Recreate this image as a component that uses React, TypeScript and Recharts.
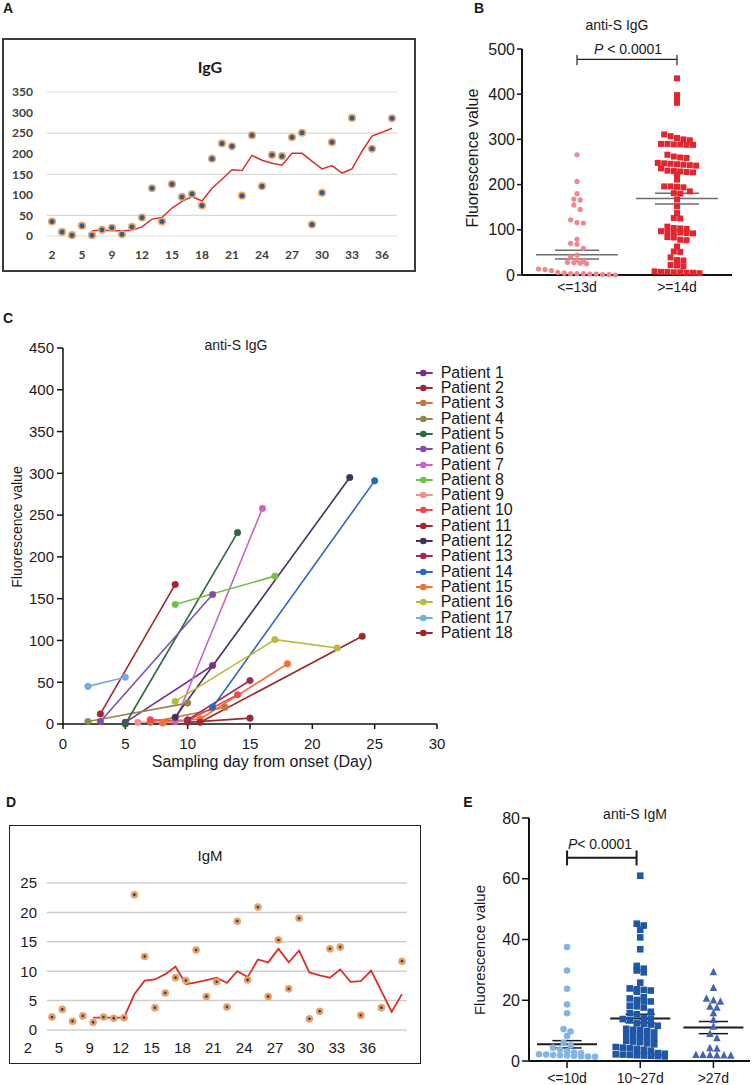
import React from 'react';
import {
  LineChart,
  Line,
  XAxis,
  YAxis,
  CartesianGrid,
  ScatterChart,
  Scatter,
  ReferenceLine,
} from 'recharts';

const FONT = 'Arial, "Liberation Sans", Helvetica, sans-serif';
const XLS = 'Lato, "Open Sans", sans-serif';

// A + D: sampling day from onset (day 6 not sampled)
const days = ['2', '3', '4', '5', '7', '8', '9', '10', '11', '12', '13', '14', '15', '16', '17', '18', '19', '20', '21', '22', '23', '24', '25', '26', '27', '28', '29', '30', '31', '32', '33', '34', '35', '36', '37'];
const iggPoints = [35, 10, 2, 25, 2, 15, 20, 4, 22, 45, 116, 35, 126, 95, 102, 74, 188, 225, 218, 98, 245, 121, 197, 194, 240, 251, 28, 105, 228, null, 287, null, 212, null, 286];
const iggAvg = [null, null, null, null, 13, 14, 13, 13, 14, 22, 41, 45, 68, 84, 96, 85, 116, 138, 161, 159, 196, 184, 177, 172, 201, 201, 182, 163, 171, 153, 163, 206, 243, 252, 262];
const igmPoints = [2.2, 3.5, 1.5, 2.4, 1.3, 2.2, 2.0, 2.1, 23.0, 12.5, 3.8, 6.3, 8.9, 8.4, 13.6, 5.7, 8.2, 3.9, 18.5, 8.5, 20.9, 5.7, 15.3, 7.0, 19.0, 1.9, 3.2, 13.8, 14.1, null, 2.5, null, 3.8, null, 11.7];
const igmAvg = [null, null, null, null, 2.1, 2.1, 2.1, 2.1, 6.1, 8.4, 8.6, 9.5, 10.8, 7.8, 8.1, 8.5, 8.9, 8.0, 10.0, 9.0, 12.0, 11.5, 13.8, 11.5, 13.5, 9.8, 9.3, 8.9, 10.3, 8.2, 8.3, 10.1, 6.6, 3.1, 6.1];

// B: anti-S IgG by sampling window
const groupsB = ['<=13d', '>=14d'];
const iggEarly = [266, 207, 180, 168, 166, 155, 145, 122, 116, 115, 79, 70, 68, 59, 44, 40, 33, 30, 28, 27, 26, 25, 13, 12, 10, 6, 4, 3, 3, 3, 2, 2, 1, 1, 0];
const iggLate = [435, 398, 391, 381, 311, 307, 303, 300, 298, 290, 290, 289, 289, 288, 288, 266, 262, 260, 259, 248, 247, 246, 245, 244, 243, 242, 236, 231, 230, 229, 228, 227, 222, 211, 196, 196, 195, 194, 185, 181, 180, 167, 152, 137, 126, 125, 107, 104, 103, 102, 97, 96, 95, 94, 93, 92, 84, 83, 78, 77, 63, 52, 51, 39, 33, 32, 22, 21, 19, 8, 7, 7, 6, 6, 5, 5, 4];
const meanB = [45, 169];
const semB = [9.5, 12];

// C: paired samples per patient
const patientDays = [[5, 12], [3, 9], [7, 13], [2, 10], [5, 14], [3, 12], [9, 16], [9, 17], [6, 8], [7, 10, 14], [10, 15], [9, 23], [10, 15], [12, 25], [8, 11, 18], [9, 17, 22], [2, 5], [11, 24]];
const patientValues = [[2, 70], [12, 167], [2, 20], [3, 25], [0, 229], [3, 155], [3, 258], [143, 177], [2, 1], [5, 4, 35], [2, 7], [8, 295], [5, 52], [20, 291], [2, 6, 72], [27, 101, 91], [45, 56], [2, 105]];
const patientColors = ['#7b2d8e', '#a3232f', '#c8733a', '#8c8a4a', '#2a6a3e', '#8050a8', '#c468c0', '#70c048', '#f09090', '#ee4848', '#9a2b35', '#45305a', '#9a2b5a', '#2c68b8', '#f07038', '#b8b840', '#7aa8e0', '#9a2a2a'];

// E: anti-S IgM by sampling window
const groupsE = ['<=10d', '10~27d', '>27d'];
const igmEarly = [37.5, 29.8, 23.8, 18.6, 15.7, 10.5, 9.7, 8.2, 6.0, 5.2, 4.4, 3.8, 3.2, 2.8, 2.5, 2.2, 2.1, 2.0, 1.9, 1.8, 1.7, 1.6, 1.5, 1.4];
const igmMid = [61, 45.2, 44.6, 43.2, 40.7, 36.8, 31.3, 30.4, 29.8, 29.2, 25.8, 23.9, 23.6, 23.4, 23.2, 22.8, 21.0, 20.6, 20.1, 19.8, 19.6, 18.2, 18.0, 17.6, 16.2, 15.8, 15.4, 14.2, 14.0, 13.8, 13.5, 12.4, 12.2, 12.0, 11.6, 10.6, 10.3, 10.1, 9.8, 9.4, 8.6, 8.3, 8.1, 7.8, 7.4, 6.6, 6.4, 6.2, 5.8, 5.5, 4.6, 4.4, 4.2, 4.0, 3.7, 3.4, 2.6, 2.4, 2.2, 2.1, 2.0, 1.9, 1.8, 1.7, 1.6, 1.5];
const igmLate = [29.2, 24.0, 20.5, 19.9, 19.5, 17.9, 17.5, 15.7, 13.5, 11.3, 8.9, 7.5, 4.2, 4.0, 2.0, 1.95, 1.9, 1.85, 1.8, 1.75];
const meanE = [5.5, 14, 11];
const semE = [1.2, 1.4, 2];

const iggData = days.map((d, i) => ({ day: d, dot: iggPoints[i], avg: iggAvg[i] }));
const igmData = days.map((d, i) => ({ day: d, dot: igmPoints[i], avg: igmAvg[i] }));
const patients = patientDays.map((ds, i) => ds.map((d, j) => ({ d, v: patientValues[i][j] })));

// column scatter: points in the same pixel row are spread sideways, centred
function swarm(values: number[], pxPerUnit: number, size: number): number[] {
  const rows = new Map<number, number[]>();
  values.forEach((v, i) => {
    const r = Math.floor((v * pxPerUnit) / size);
    if (!rows.has(r)) rows.set(r, []);
    rows.get(r)!.push(i);
  });
  const off = new Array(values.length).fill(0);
  rows.forEach((idx) => {
    idx.forEach((i, j) => {
      off[i] = (j - (idx.length - 1) / 2) * size;
    });
  });
  return off;
}

const column = (vals: number[], cat: number, pxY: number, pxX: number, size: number) => {
  const o = swarm(vals, pxY, size);
  return vals.map((v, i) => ({ x: cat + o[i] / pxX, y: v }));
};

const dotShape = (r: number, fill: string) => (p: any) => <circle cx={p.cx} cy={p.cy} r={r} fill={fill} />;
const squareShape = (s: number, fill: string) => (p: any) => (
  <rect x={p.cx - s / 2} y={p.cy - s / 2} width={s} height={s} fill={fill} />
);
const triShape = (s: number, fill: string) => (p: any) => (
  <polygon
    points={`${p.cx},${p.cy - s * 0.6} ${p.cx - s / 2},${p.cy + s * 0.4} ${p.cx + s / 2},${p.cy + s * 0.4}`}
    fill={fill}
  />
);

const Txt = ({ x, y, size = 14, bold = false, rotate = false, font = FONT, children }: any) => (
  <div
    style={{
      position: 'absolute',
      left: x,
      top: y,
      transform: `translate(-50%, -50%)${rotate ? ' rotate(-90deg)' : ''}`,
      fontSize: size,
      fontWeight: bold ? 700 : 400,
      fontFamily: font,
      whiteSpace: 'nowrap',
      color: '#1a1a1a',
      lineHeight: 1,
    }}
  >
    {children}
  </div>
);

const seg = (x1: number, y1: number, x2: number, y2: number) => [
  { x: x1, y: y1 },
  { x: x2, y: y2 },
];

const App: React.FC = () => {
  const bPx = 100; // px per category unit
  const b1 = column(iggEarly, 1, 0.452, bPx, 6.4);
  const b2 = column(iggLate, 2, 0.452, bPx, 6.4);
  const ePx = 73.2;
  const e1 = column(igmEarly, 1, 3.034, ePx, 7);
  const e2 = column(igmMid, 2, 3.034, ePx, 7);
  const e3 = column(igmLate, 3, 3.034, ePx, 7);

  const axisTick = { fontSize: 16, fill: '#1a1a1a', fontFamily: FONT };

  return (
    <div style={{ position: 'absolute', left: 0, top: 0, width: 752, height: 1085, background: '#fff', fontFamily: FONT }}>
      {/* panel letters */}
      <Txt x={8} y={8} bold>A</Txt>
      <Txt x={479} y={8} bold>B</Txt>
      <Txt x={8} y={318} bold>C</Txt>
      <Txt x={11} y={802} bold>D</Txt>
      <Txt x={468} y={802} bold>E</Txt>

      {/* A: IgG by day */}
      <div style={{ position: 'absolute', left: 2, top: 38, width: 414, height: 234, border: '2px solid #3c3c3c', boxSizing: 'border-box' }} />
      <div style={{ position: 'absolute', left: 0, top: 0 }}>
        <LineChart width={420} height={290} data={iggData} margin={{ top: 92, right: 23, bottom: 24, left: 7 }}>
          <CartesianGrid vertical={false} stroke="#d9d9d9" strokeWidth={1.2} />
          <XAxis
            dataKey="day"
            interval={2}
            padding={{ left: 5, right: 5 }}
            axisLine={false}
            tickLine={false}
            tickSize={0}
            tickMargin={14}
            tick={{ fontSize: 12, fontWeight: 700, fill: '#404040', fontFamily: XLS }}
          />
          <YAxis
            domain={[0, 350]}
            ticks={[0, 50, 100, 150, 200, 250, 300, 350]}
            width={40}
            axisLine={false}
            tickLine={false}
            tickSize={0}
            tickMargin={14}
            tick={{ fontSize: 12, fontWeight: 700, fill: '#404040', fontFamily: XLS }}
          />
          <Line dataKey="avg" stroke="#d9302c" strokeWidth={1.5} dot={false} isAnimationActive={false} />
          <Line
            dataKey="dot"
            stroke="none"
            dot={{ r: 3.3, fill: '#2f5f8f', stroke: '#f2a766', strokeWidth: 1.6 }}
            isAnimationActive={false}
          />
        </LineChart>
      </div>
      <Txt x={210} y={67} size={16} bold font={XLS}>IgG</Txt>

      {/* B: anti-S IgG scatter */}
      <div style={{ position: 'absolute', left: 420, top: 0 }}>
        <ScatterChart width={332} height={310} margin={{ top: 49, right: 20, bottom: 5, left: 57 }}>
          <XAxis
            type="number"
            dataKey="x"
            domain={[0.45, 2.55]}
            ticks={[1, 2]}
            tickFormatter={(v: number) => groupsB[v - 1]}
            axisLine={{ stroke: '#111', strokeWidth: 2 }}
            tickLine={false}
            tickSize={0}
            tickMargin={7}
            tick={{ fontSize: 14, fill: '#1a1a1a', fontFamily: FONT }}
          />
          <YAxis
            type="number"
            dataKey="y"
            domain={[0, 500]}
            ticks={[0, 100, 200, 300, 400, 500]}
            width={45}
            axisLine={{ stroke: '#111', strokeWidth: 2 }}
            tickLine={{ stroke: '#111', strokeWidth: 1.5 }}
            tickSize={5}
            tickMargin={2}
            tick={axisTick}
          />
          <Scatter data={b1} shape={dotShape(2.6, '#f0868f')} isAnimationActive={false} />
          <Scatter data={b2} shape={squareShape(6, '#e2252f')} isAnimationActive={false} />
          {meanB.map((m, i) => (
            <ReferenceLine key={`m${i}`} segment={seg(i + 1 - 0.41, m, i + 1 + 0.41, m)} stroke="#6d6d6d" strokeWidth={1.5} />
          ))}
          {meanB.map((m, i) => (
            <ReferenceLine key={`s${i}`} segment={seg(i + 1 - 0.22, m + semB[i], i + 1 + 0.22, m + semB[i])} stroke="#6d6d6d" strokeWidth={1.5} />
          ))}
          {meanB.map((m, i) => (
            <ReferenceLine key={`t${i}`} segment={seg(i + 1 - 0.22, m - semB[i], i + 1 + 0.22, m - semB[i])} stroke="#6d6d6d" strokeWidth={1.5} />
          ))}
          <ReferenceLine segment={seg(1, 477, 2, 477)} stroke="#222" strokeWidth={1.2} />
          <ReferenceLine segment={seg(1, 487, 1, 464)} stroke="#222" strokeWidth={1.2} />
          <ReferenceLine segment={seg(2, 487, 2, 464)} stroke="#222" strokeWidth={1.2} />
        </ScatterChart>
      </div>
      <Txt x={617} y={25} size={14}>anti-S IgG</Txt>
      <Txt x={628} y={49} size={14}><i>P</i> &lt; 0.0001</Txt>
      <Txt x={473} y={158} size={16} rotate>Fluorescence value</Txt>

      {/* C: patient trajectories */}
      <div style={{ position: 'absolute', left: 0, top: 330 }}>
        <LineChart width={450} height={440} margin={{ top: 18, right: 13, bottom: 16, left: 13 }}>
          <XAxis
            type="number"
            dataKey="d"
            domain={[0, 30]}
            ticks={[0, 5, 10, 15, 20, 25, 30]}
            axisLine={{ stroke: '#111', strokeWidth: 1.5 }}
            tickLine={{ stroke: '#111', strokeWidth: 1.5 }}
            tickSize={5}
            tickMargin={9}
            tick={{ fontSize: 15, fill: '#1a1a1a', fontFamily: FONT }}
          />
          <YAxis
            type="number"
            domain={[0, 450]}
            ticks={[0, 50, 100, 150, 200, 250, 300, 350, 400, 450]}
            width={50}
            axisLine={{ stroke: '#111', strokeWidth: 1.5 }}
            tickLine={{ stroke: '#111', strokeWidth: 1.5 }}
            tickSize={6}
            tickMargin={3}
            tick={{ fontSize: 15, fill: '#1a1a1a', fontFamily: FONT }}
          />
          {patients.map((p, i) => (
            <Line
              key={i}
              data={p}
              dataKey="v"
              stroke={patientColors[i]}
              strokeWidth={1.6}
              dot={{ r: 3.3, fill: patientColors[i], stroke: patientColors[i], strokeWidth: 0.5 }}
              isAnimationActive={false}
            />
          ))}
        </LineChart>
      </div>
      <Txt x={236} y={345} size={14}>anti-S IgG</Txt>
      <Txt x={17} y={527} size={14} rotate>Fluorescence value</Txt>
      <Txt x={262} y={762} size={16}>Sampling day from onset (Day)</Txt>
      {patientColors.map((c, i) => (
        <div
          key={i}
          style={{ position: 'absolute', left: 414, top: 372.7 + i * 15.3 - 8, height: 16, display: 'flex', alignItems: 'center' }}
        >
          <svg width={20} height={16}>
            <line x1={2} x2={18.7} y1={8} y2={8} stroke={c} strokeWidth={2} />
            <circle cx={9.3} cy={8} r={3.3} fill={c} />
          </svg>
          <span style={{ marginLeft: 6.7, fontSize: 16, fontFamily: FONT, color: '#1a1a1a', lineHeight: 1 }}>Patient {i + 1}</span>
        </div>
      ))}

      {/* D: IgM by day */}
      <div style={{ position: 'absolute', left: 9, top: 825, width: 412, height: 239, border: '1.5px solid #222', boxSizing: 'border-box' }} />
      <div style={{ position: 'absolute', left: 0, top: 800 }}>
        <LineChart width={420} height={263} data={igmData} margin={{ top: 83, right: 13, bottom: 8, left: 10 }}>
          <CartesianGrid vertical={false} stroke="#cfcfcf" strokeWidth={1.5} />
          <XAxis
            dataKey="day"
            interval={2}
            padding={{ left: 5, right: 5 }}
            height={25}
            axisLine={false}
            tickLine={false}
            tickSize={0}
            tickMargin={12}
            tick={{ fontSize: 15, fill: '#1a1a1a', fontFamily: FONT, dx: -24 }}
          />
          <YAxis
            domain={[0, 25]}
            ticks={[0, 5, 10, 15, 20, 25]}
            width={37}
            axisLine={false}
            tickLine={false}
            tickSize={0}
            tickMargin={10}
            tick={{ fontSize: 15, fill: '#1a1a1a', fontFamily: FONT }}
          />
          <Line dataKey="avg" stroke="#d9302c" strokeWidth={1.8} dot={false} isAnimationActive={false} />
          <Line
            dataKey="dot"
            stroke="none"
            dot={{ r: 2.6, fill: '#3b4254', stroke: '#e9a067', strokeWidth: 2.4 }}
            isAnimationActive={false}
          />
        </LineChart>
      </div>
      <Txt x={210} y={855} size={15}>IgM</Txt>

      {/* E: anti-S IgM scatter */}
      <div style={{ position: 'absolute', left: 420, top: 790 }}>
        <ScatterChart width={332} height={295} margin={{ top: 28, right: 2, bottom: 0, left: 64 }}>
          <XAxis
            type="number"
            dataKey="x"
            domain={[0.48, 3.5]}
            ticks={[1, 2, 3]}
            tickFormatter={(v: number) => groupsE[v - 1]}
            height={24}
            axisLine={{ stroke: '#111', strokeWidth: 2 }}
            tickLine={{ stroke: '#111', strokeWidth: 1.5 }}
            tickSize={7}
            tickMargin={5}
            tick={{ fontSize: 14, fill: '#1a1a1a', fontFamily: FONT }}
          />
          <YAxis
            type="number"
            dataKey="y"
            domain={[0, 80]}
            ticks={[0, 20, 40, 60, 80]}
            width={45}
            axisLine={{ stroke: '#111', strokeWidth: 2 }}
            tickLine={{ stroke: '#111', strokeWidth: 1.5 }}
            tickSize={7}
            tickMargin={2}
            tick={axisTick}
          />
          <Scatter data={e1} shape={dotShape(3.3, '#82b4e4')} isAnimationActive={false} />
          <Scatter data={e2} shape={squareShape(6.6, '#1f56a5')} isAnimationActive={false} />
          <Scatter data={e3} shape={triShape(7.5, '#4763b0')} isAnimationActive={false} />
          {meanE.map((m, i) => (
            <ReferenceLine key={`m${i}`} segment={seg(i + 1 - 0.41, m, i + 1 + 0.41, m)} stroke="#1a1a1a" strokeWidth={2} />
          ))}
          {meanE.map((m, i) => (
            <ReferenceLine key={`s${i}`} segment={seg(i + 1 - 0.2, m + semE[i], i + 1 + 0.2, m + semE[i])} stroke="#1a1a1a" strokeWidth={1.5} />
          ))}
          {meanE.map((m, i) => (
            <ReferenceLine key={`t${i}`} segment={seg(i + 1 - 0.2, m - semE[i], i + 1 + 0.2, m - semE[i])} stroke="#1a1a1a" strokeWidth={1.5} />
          ))}
          <ReferenceLine segment={seg(1, 66.9, 1.95, 66.9)} stroke="#1a1a1a" strokeWidth={2} />
          <ReferenceLine segment={seg(1, 69.3, 1, 64.4)} stroke="#1a1a1a" strokeWidth={2} />
          <ReferenceLine segment={seg(1.95, 69.3, 1.95, 64.4)} stroke="#1a1a1a" strokeWidth={2} />
        </ScatterChart>
      </div>
      <Txt x={635} y={814} size={14}>anti-S IgM</Txt>
      <Txt x={600} y={844} size={14}><i>P</i>&lt; 0.0001</Txt>
      <Txt x={479} y={950} size={15} rotate>Fluorescence value</Txt>
    </div>
  );
};

export default App;
